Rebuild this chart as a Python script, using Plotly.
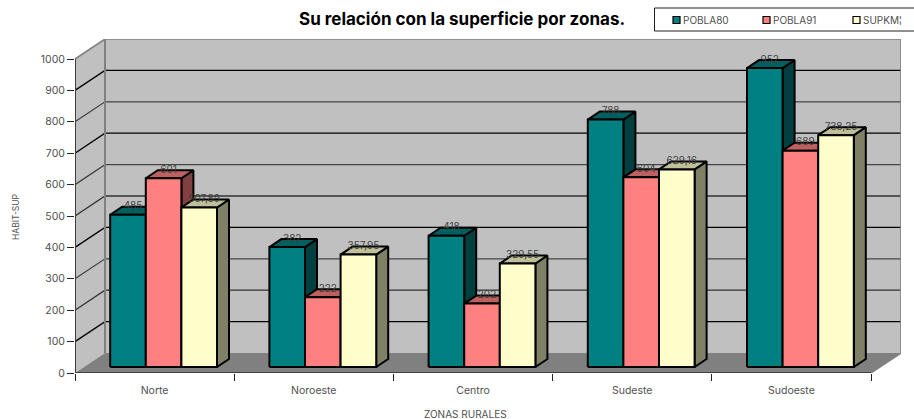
import plotly.graph_objects as go

categories = ["Norte", "Noroeste", "Centro", "Sudeste", "Sudoeste"]
pobla80 = [485, 382, 418, 788, 952]
pobla91 = [601, 222, 202, 604, 689]
supkm = [507.89, 357.95, 329.55, 629.16, 738.25]
series_names = ["POBLA80", "POBLA91", "SUPKM¦"]
series_values = [pobla80, pobla91, supkm]
y_ticks = list(range(0, 1001, 100))

FRONT = ["#008080", "#FF8080", "#FFFFCC"]
TOP = ["#006060", "#BF6060", "#BFBF99"]
SIDE = ["#004040", "#804040", "#808066"]
GRID = {100: "#000", 200: "#333", 300: "#444", 400: "#000", 500: "#333",
        600: "#444", 700: "#000", 800: "#444", 900: "#000"}

W, H = 914, 419
L, R, T, B = 75, 13, 39, 46
PX_X = 159.2          # pixels per category
PX_Y = 0.314          # pixels per value unit
x_max = (W - L - R) / PX_X
y_max = (H - T - B) / PX_Y
WALL_X, WALL_Y = 30 / PX_X, 20 / PX_Y
BASE_Y = 6 / PX_Y
DEPTH_X, DEPTH_Y = 12 / PX_X, 8 / PX_Y
GROUP_PAD = 35.2 / PX_X
BAR_W = 35.6 / PX_X
FONT = "Inter, 'Open Sans', sans-serif"
TEXT = "#505050"

fig = go.Figure()


def poly(xs, ys, fill, line="rgba(0,0,0,0)", width=0):
    fig.add_trace(go.Scatter(x=xs, y=ys, mode="lines", fill="toself", fillcolor=fill,
                             line=dict(color=line, width=width), hoverinfo="skip",
                             showlegend=False, cliponaxis=False))


def seg(xs, ys, color, width=1):
    fig.add_trace(go.Scatter(x=xs, y=ys, mode="lines", line=dict(color=color, width=width),
                             hoverinfo="skip", showlegend=False, cliponaxis=False))


# walls and floor
poly([0, WALL_X, WALL_X, 0, 0], [0, WALL_Y, 1000 + WALL_Y, 1000, 0], "#C0C0C0")
poly([WALL_X, x_max, x_max, WALL_X, WALL_X],
     [WALL_Y, WALL_Y, 1000 + WALL_Y, 1000 + WALL_Y, WALL_Y], "#C0C0C0")
poly([0, WALL_X, x_max, 5, 0], [0, WALL_Y, WALL_Y, 0, 0], "#808080")
for v in y_ticks[1:-1]:
    seg([0, WALL_X, x_max], [v, v + WALL_Y, v + WALL_Y], GRID[v], 1.3)
seg([0, WALL_X, x_max, x_max], [1000, 1000 + WALL_Y, 1000 + WALL_Y, WALL_Y], "#808080", 1.6)
seg([WALL_X, WALL_X], [WALL_Y, 1000 + WALL_Y], "#808080", 2)
seg([5, x_max], [0, WALL_Y], "#808080", 1.5)

# bars
for s, values in enumerate(series_values):
    sx, sy, tx, ty, fx, fy = [], [], [], [], [], []
    for i, v in enumerate(values):
        x0 = i + GROUP_PAD + s * BAR_W
        x1 = x0 + BAR_W
        y0 = BASE_Y
        y1 = v + BASE_Y
        fx += [x0, x1, x1, x0, x0, None]
        fy += [y0, y0, y1, y1, y0, None]
        tx += [x0, x1, x1 + DEPTH_X, x0 + DEPTH_X, x0, None]
        ty += [y1, y1, y1 + DEPTH_Y, y1 + DEPTH_Y, y1, None]
        sx += [x1, x1 + DEPTH_X, x1 + DEPTH_X, x1, x1, None]
        sy += [y0, y0 + DEPTH_Y, y1 + DEPTH_Y, y1, y0, None]
    poly(sx, sy, SIDE[s], "#000", 2)
    poly(tx, ty, TOP[s], "#000", 2)
    poly(fx, fy, FRONT[s], "#000", 2)

# axes lines
seg([0, 5], [0, 0], "#000", 1.2)
seg([0, 0], [0, 1000], "#404040", 2)

# value labels
for s, values in enumerate(series_values):
    lx = [i + GROUP_PAD + (s + 0.5) * BAR_W + 5 / PX_X for i in range(5)]
    ly = [v + BASE_Y + 8 / PX_Y for v in values]
    labels = [f"{v:g}".replace(".", ",") for v in values]
    fig.add_trace(go.Scatter(x=lx, y=ly, mode="text", text=labels, textposition="middle center",
                             textfont=dict(family=FONT, size=10, color="#404040"),
                             hoverinfo="skip", showlegend=False, cliponaxis=False))

shapes, annotations = [], []
def paper_x(p): return (p - L) / (W - L - R)
def paper_y(p): return (H - B - p) / (H - T - B)

shapes.append(dict(type="rect", xref="paper", yref="paper", x0=paper_x(654.5), x1=paper_x(930),
                   y0=paper_y(31), y1=paper_y(8), line=dict(color="#202020", width=1),
                   fillcolor="white"))
for s, name in enumerate(series_names):
    sq = 673 + s * 90
    shapes.append(dict(type="rect", xref="paper", yref="paper", x0=paper_x(sq), x1=paper_x(sq + 7),
                       y0=paper_y(23.5), y1=paper_y(16.5), line=dict(color="#000", width=1.2),
                       fillcolor=FRONT[s]))
    annotations.append(dict(xref="paper", yref="paper", x=paper_x(681 + s * 90), y=paper_y(20),
                            text=name, showarrow=False, xanchor="left", yanchor="middle",
                            font=dict(family=FONT, size=10, color=TEXT)))
annotations += [
    dict(xref="paper", yref="paper", x=paper_x(462), y=paper_y(19), text="<b>Su relación con la superficie por zonas.</b>",
         showarrow=False, xanchor="center", yanchor="middle",
         font=dict(family=FONT, size=17, color="#000")),
    dict(xref="paper", yref="paper", x=paper_x(16), y=paper_y(217), text="HABIT-SUP", textangle=-90,
         showarrow=False, xanchor="center", yanchor="middle",
         font=dict(family=FONT, size=8.5, color=TEXT)),
    dict(xref="paper", yref="paper", x=paper_x(465), y=paper_y(414), text="ZONAS RURALES",
         showarrow=False, xanchor="center", yanchor="middle",
         font=dict(family=FONT, size=10, color=TEXT)),
]

fig.update_layout(
    width=W, height=H, margin=dict(l=L, r=R, t=T, b=B),
    paper_bgcolor="white", plot_bgcolor="white", showlegend=False,
    shapes=shapes, annotations=annotations,
    xaxis=dict(range=[0, x_max], showgrid=False, zeroline=False, showline=False,
               tickmode="array", tickvals=[i + 0.5 for i in range(5)], ticktext=categories,
               ticks="outside", ticklen=7, tickcolor="rgba(0,0,0,0)",
               tickfont=dict(family=FONT, size=10.5, color=TEXT),
               minor=dict(tickmode="array", tickvals=list(range(6)), ticks="outside",
                          ticklen=7, tickcolor="#222", tickwidth=1, showgrid=False)),
    yaxis=dict(range=[0, y_max], showgrid=False, zeroline=False, showline=False,
               tickmode="array", tickvals=y_ticks, ticks="outside", ticklen=7, tickcolor="#222",
               tickwidth=1, tickfont=dict(family=FONT, size=10.5, color=TEXT)),
)
fig.write_html("out.html", post_script="document.body.style.margin='0';",
               config={"displayModeBar": False})
